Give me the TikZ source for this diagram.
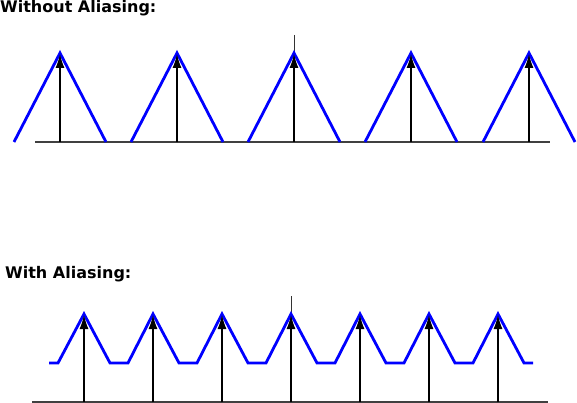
\documentclass[tikz,border=0pt]{standalone}
\usepackage{fontspec}
\setmainfont{DejaVu Sans}
\usetikzlibrary{arrows.meta}
\begin{document}
\begin{tikzpicture}[x=1pt,y=-1pt,
  axisline/.style={draw=black!75, line width=1.2pt},
  vaxis/.style={draw=black!80, line width=0.9pt},
  spike/.style={draw=black, line width=1.3pt, -{Latex[length=14pt,width=9pt]}},
  spectrum/.style={draw=blue, line width=2.8pt, line join=miter},
  title/.style={font=\bfseries\fontsize{16}{18}\selectfont, anchor=west, inner sep=0pt}]
\useasboundingbox (0,0) rectangle (577,403);
% titles
\node[title] (t1) at (0,8) {Without Aliasing:};
\node[title] (t2) at (5,274) {With Aliasing:};
% top panel
\draw[axisline] (35,142) -- (550,142);
\draw[vaxis] (294,35) -- (294,142);
\foreach \c in {60,177,294,411,529}{
  \draw[spectrum] (\c-46,142) -- (\c,53) -- (\c+46,142);
  \draw[spike] (\c,142) -- (\c,54);
}
% bottom panel
\draw[axisline] (32,402) -- (548,402);
\draw[vaxis] (291,296) -- (291,402);
\draw[spectrum] (49,363) -- (58,363)
  \foreach \c in {84,153,222,291,360,429}{ -- (\c,314) -- (\c+26,363) -- (\c+44,363) }
  -- (498,314) -- (524,363) -- (533,363);
\foreach \c in {84,153,222,291,360,429,498}{
  \draw[spike] (\c,402) -- (\c,315);
}
\end{tikzpicture}
\end{document}
